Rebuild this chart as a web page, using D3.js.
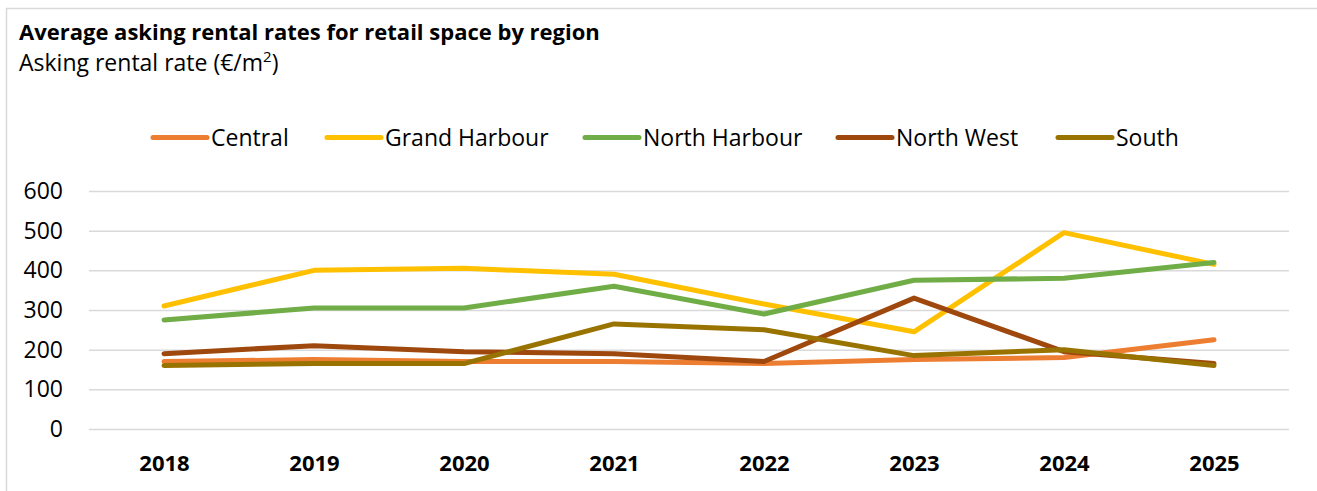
<!DOCTYPE html>
<html>
<meta charset="utf-8">
<style>
  body { margin: 0; background: #fff; }
  svg { font-family: "Open Sans", sans-serif; }
</style>

<body>
  <svg></svg>
</body>

<script src="https://d3js.org/d3.v7.min.js"></script>

<script>

  var W = 1317, H = 491;
  var margin = { top: 191, right: 28, bottom: 62, left: 89 };
  var width = W - margin.left - margin.right;
  var height = 429 - margin.top;

  // data
  var years = ["2018", "2019", "2020", "2021", "2022", "2023", "2024", "2025"];
  var regions = ["Central", "Grand Harbour", "North Harbour", "North West", "South"];
  var central      = [170, 175, 170, 170, 165, 175, 180, 225];
  var grandHarbour = [310, 400, 405, 390, 315, 245, 495, 415];
  var northHarbour = [275, 305, 305, 360, 290, 375, 380, 420];
  var northWest    = [190, 210, 195, 190, 170, 330, 195, 165];
  var south        = [160, 165, 165, 265, 250, 185, 200, 160];
  var yTicks = [0, 100, 200, 300, 400, 500, 600];

  var series = [central, grandHarbour, northHarbour, northWest, south];
  var colors = ["#ED7D31", "#FFC000", "#70AD47", "#9E480E", "#997300"];

  var svg = d3.select("svg")
    .attr("width", W)
    .attr("height", H);

  // chart frame (only top and left edges are visible)
  svg.append("path")
    .attr("d", "M6.5," + H + "V8.5H" + W)
    .attr("fill", "none")
    .attr("stroke", "#d9d9d9")
    .attr("stroke-width", 1.5);

  svg.append("text")
    .attr("x", 19).attr("y", 40)
    .style("font-size", "22px")
    .style("font-weight", "bold")
    .text("Average asking rental rates for retail space by region");

  var sub = svg.append("text")
    .attr("x", 19).attr("y", 71)
    .style("font-size", "23px");
  sub.append("tspan").text("Asking rental rate (€/m");
  sub.append("tspan").attr("dy", -9).style("font-size", "15px").text("2");
  sub.append("tspan").attr("dy", 9).text(")");

  var g = svg.append("g")
    .attr("transform", "translate(" + margin.left + "," + margin.top + ")");

  var x = d3.scalePoint()
    .domain(years)
    .range([0, width])
    .padding(0.5);

  var y = d3.scaleLinear()
    .domain([0, 600])
    .range([height, 0]);

  // gridlines
  g.append("g")
    .call(d3.axisLeft(y).tickValues(yTicks).tickSize(-width).tickFormat(""))
    .call(a => a.select(".domain").remove())
    .call(a => a.selectAll("line").attr("stroke", "#d9d9d9").attr("stroke-width", 1.5));

  // y labels
  g.append("g")
    .call(d3.axisLeft(y).tickValues(yTicks).tickSize(0).tickPadding(26))
    .call(a => a.select(".domain").remove())
    .call(a => a.selectAll("text")
      .style("font-family", "'Open Sans', sans-serif")
      .style("font-size", "23px")
      .attr("fill", "#000"));

  // x labels
  g.append("g")
    .attr("transform", "translate(0," + height + ")")
    .call(d3.axisBottom(x).tickSize(0).tickPadding(26))
    .call(a => a.select(".domain").remove())
    .call(a => a.selectAll("text")
      .style("font-family", "'Open Sans', sans-serif")
      .style("font-size", "22px")
      .style("font-weight", "bold")
      .attr("fill", "#000"));

  var line = d3.line()
    .x((d, i) => x(years[i]))
    .y(d => y(d));

  g.selectAll(".series")
    .data(series)
    .enter().append("path")
    .attr("class", "series")
    .attr("d", line)
    .attr("fill", "none")
    .attr("stroke", (d, i) => colors[i])
    .attr("stroke-width", 5)
    .attr("stroke-linecap", "round")
    .attr("stroke-linejoin", "round");

  // legend
  var legendX = [153, 327, 585, 838, 1058];
  var leg = svg.append("g")
    .selectAll("g")
    .data(regions)
    .enter().append("g")
    .attr("transform", (d, i) => "translate(" + legendX[i] + ",137.5)");

  leg.append("line")
    .attr("x1", 0).attr("x2", 54)
    .attr("stroke", (d, i) => colors[i])
    .attr("stroke-width", 5)
    .attr("stroke-linecap", "round");

  leg.append("text")
    .attr("x", 58)
    .attr("dy", "0.35em")
    .style("font-size", "23px")
    .text(d => d);

</script>

</html>
